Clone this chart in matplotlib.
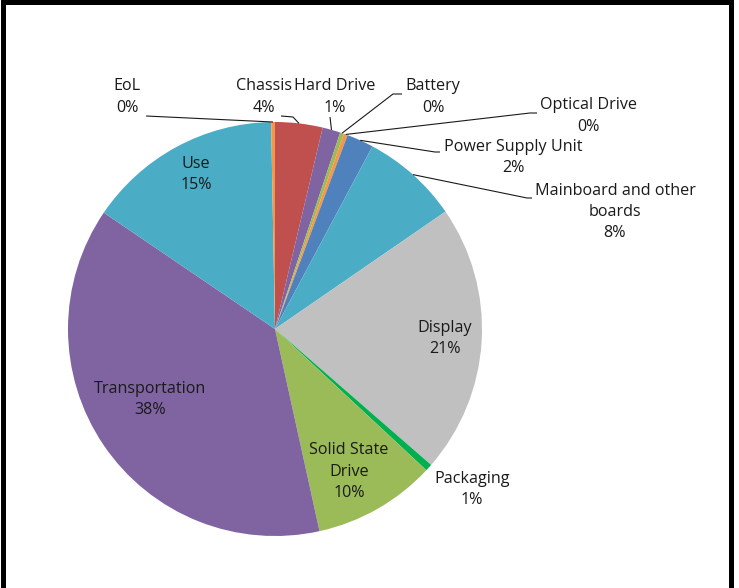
import matplotlib
matplotlib.use("Agg")
import matplotlib.pyplot as plt
from matplotlib.patches import Rectangle
import numpy as np

# ---- data (clockwise from 12 o'clock) ----
categories = ["Chassis", "Hard Drive", "Battery", "Optical Drive", "Power Supply Unit",
              "Mainboard and other\nboards", "Display", "Packaging", "Solid State\nDrive",
              "Transportation", "Use", "EoL"]
values = [3.7, 1.4, 0.3, 0.3, 2.1, 7.6, 21.0, 0.55, 9.6, 37.95, 15.2, 0.3]
colors = ["#C0504D", "#8064A2", "#9BBB59", "#F79646", "#4F81BD", "#4BACC6",
          "#C0C0C0", "#00B050", "#9BBB59", "#8064A2", "#4BACC6", "#F79646"]

W, H = 739, 588
CX, CY, R = 275, 329, 207

fig = plt.figure(figsize=(W / 100, H / 100), dpi=100)
ax = fig.add_axes([0, 0, 1, 1])
ax.axis("off")

def P(px, py):
    return ((px - CX) / R, (CY - py) / R)

wedges, _ = ax.pie(values, colors=colors, startangle=90, counterclock=False,
                   radius=1, center=(0, 0), wedgeprops=dict(linewidth=0),
                   frame=False)
ax.set_xlim(-CX / R, (W - CX) / R)
ax.set_ylim(-(H - CY) / R, CY / R)
ax.set_aspect("auto")

total = sum(values)
pcts = [f"{round(v / total * 100):.0f}%" for v in values]

font = dict(family=["Open Sans", "DejaVu Sans"], fontsize=11.6, color="#1a1a1a",
            ha="center", va="center", linespacing=1.45)

# label centres (pixels) and leader paths (pixels, ending at the wedge edge)
label_pos = {
    "Chassis": (264, 97), "Hard Drive": (335, 97), "Battery": (433, 97),
    "Optical Drive": (588, 116), "Power Supply Unit": (513, 157.5),
    "Mainboard and other\nboards": (615, 212), "Display": (445, 338.5),
    "Packaging": (472, 489.5), "Solid State\nDrive": (349, 471.5),
    "Transportation": (150, 399.5), "Use": (196, 174.5), "EoL": (127, 97),
}
leaders = {
    "EoL": [(146, 116)],
    "Chassis": [(281, 116), (293, 117)],
    "Hard Drive": [(330, 117)],
    "Battery": [(402, 94), (393, 94)],
    "Optical Drive": [(537, 113), (530, 113)],
    "Power Supply Unit": [(440, 152), (435, 152)],
    "Mainboard and other\nboards": [(532, 198), (527, 198)],
}

for w, cat, pct in zip(wedges, categories, pcts):
    x, y = P(*label_pos[cat])
    ax.text(x, y, f"{cat}\n{pct}", **font)
    if cat in leaders:
        mid = np.deg2rad((w.theta1 + w.theta2) / 2)
        ex, ey = np.cos(mid), np.sin(mid)
        pts = [P(*p) for p in leaders[cat]] + [(ex, ey)]
        xs, ys = zip(*pts)
        ax.plot(xs, ys, color="#1a1a1a", lw=0.8, solid_capstyle="butt")

# black frame (top, left, right)
def frect(x0, y0, x1, y1):
    fig.add_artist(Rectangle((x0 / W, 1 - y1 / H), (x1 - x0) / W, (y1 - y0) / H,
                             transform=fig.transFigure, color="black", lw=0))
frect(1, 0, 734, 5)
frect(1, 0, 6, H)
frect(729, 0, 734, H)

fig.savefig("out.png", dpi=100)
